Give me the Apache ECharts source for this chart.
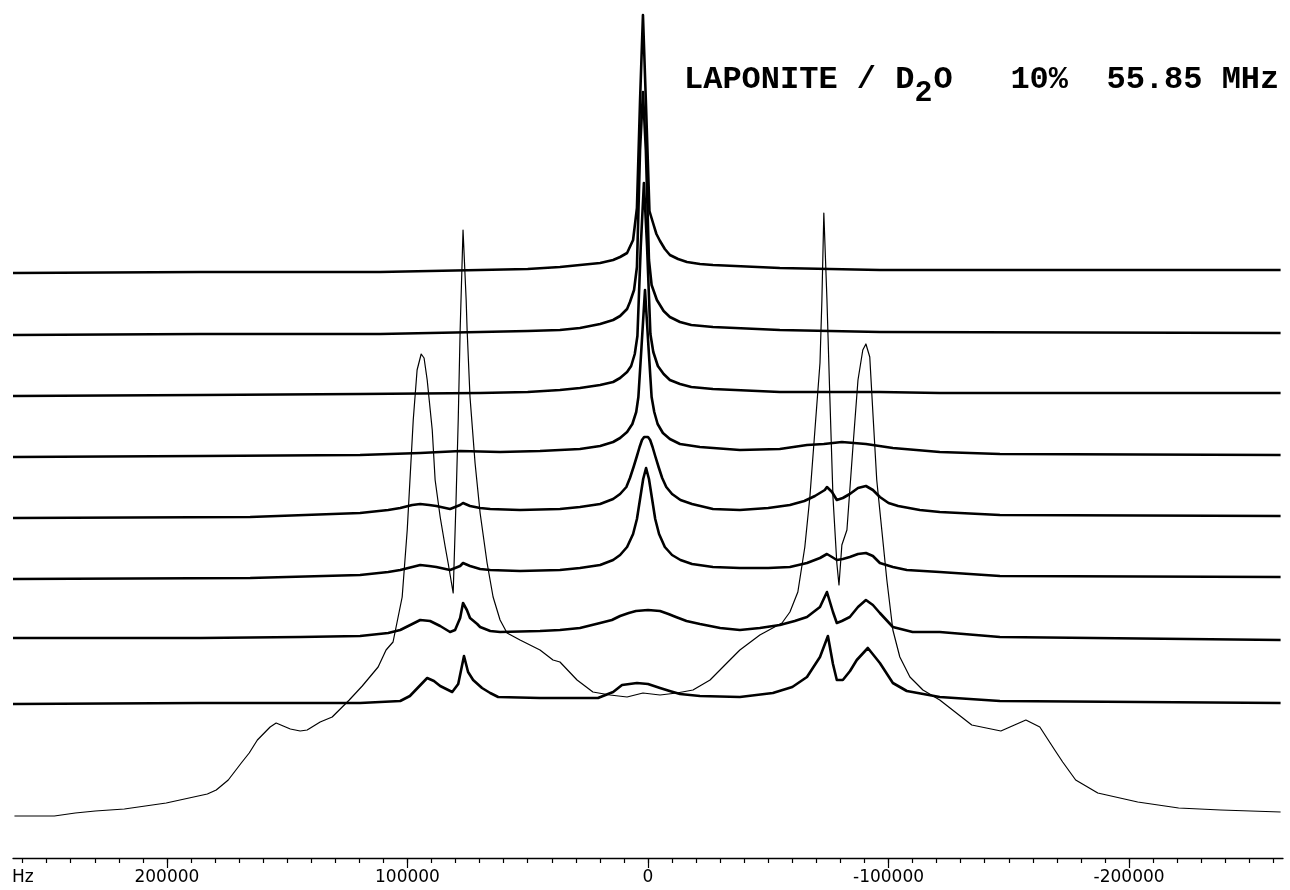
<!DOCTYPE html>
<html>
<head>
<meta charset="utf-8">
<script src="https://cdn.jsdelivr.net/npm/echarts@6.0.0/dist/echarts.min.js"></script>
<style>
  html, body { margin: 0; padding: 0; background: #fff; }
  #chart { width: 1290px; height: 890px; }
</style>
</head>
<body>
<div id="chart"></div>
<script>
// ---------------- DATA ----------------
// x: frequency offset in Hz, y: intensity above each trace's own baseline (arbitrary units)
const majorTickValues = [200000, 100000, 0, -100000, -200000];
const axisUnit = 'Hz';
const titleParts = ['LAPONITE / D', '2', 'O   10%  55.85 MHz'];

// vertical stacking offsets of the 8 noisy traces (top to bottom) and the broad spectrum
const traceOffsets = [585, 523, 462, 401, 340, 279, 218, 154, 42];

const trace1 = [[264000,0],[186000,1],[111400,1],[69800,3],[50000,4],[36600,6],[28300,8],[19900,10],[14500,13],[11600,16],[8700,20],[6200,33],[4600,65],[3300,173],[2100,258],[900,173],[-600,62],[-2100,50],[-3500,39],[-5000,32],[-7000,24],[-9100,18],[-12500,14],[-16200,11],[-21600,9],[-27000,8],[-54800,5],[-96400,3],[-146300,3],[-263000,3]];

const trace2 = [[264000,0],[186000,1],[111400,1],[69800,3],[50000,4],[36600,5],[28300,7],[19900,11],[14500,15],[11600,19],[8700,26],[7500,33],[5800,45],[4600,68],[3300,185],[2100,243],[900,185],[-400,75],[-1500,50],[-3700,35],[-6500,24],[-9100,18],[-13300,13],[-18000,10],[-27000,8],[-54800,5],[-96400,3],[-263000,2]];

const trace3 = [[264000,0],[186000,1],[119700,2],[69800,3],[50000,4],[36600,6],[28300,8],[19900,11],[14500,14],[11600,18],[8700,24],[7000,30],[5500,42],[4400,60],[3000,150],[1700,213],[400,150],[-1000,62],[-2200,44],[-4100,30],[-6500,22],[-9100,16],[-13300,12],[-18000,9],[-27000,7],[-54800,4],[-96400,4],[-121300,3],[-263000,3]];

const trace4 = [[264000,0],[186000,1],[119700,2],[94700,4],[78000,6],[61500,5],[44900,6],[36600,7],[28300,8],[19900,11],[14500,15],[11600,19],[8700,25],[6500,33],[4900,45],[4000,60],[2700,110],[1250,167],[-200,110],[-1500,60],[-2600,45],[-4000,33],[-6200,24],[-9100,18],[-13300,13],[-21600,10],[-38200,7],[-54800,8],[-66100,12],[-73100,13],[-80600,15],[-90600,13],[-101800,9],[-121300,5],[-146300,3],[-263000,2]];

const trace5 = [[264000,0],[165400,1],[119700,5],[108000,8],[103000,10],[98000,13],[94700,14],[91000,13],[88000,12],[82300,9],[78100,13],[76900,15],[74000,12],[69800,10],[65600,9],[53200,8],[36600,9],[28300,11],[19900,14],[14500,19],[11600,24],[9000,31],[7500,40],[6000,51],[4600,62],[3500,71],[2500,78],[1600,81],[800,82],[0,81],[-900,78],[-1900,71],[-3000,62],[-4400,51],[-5900,40],[-7600,31],[-10000,24],[-13500,18],[-18300,14],[-27000,9],[-38200,8],[-50000,10],[-59000,13],[-65000,17],[-69400,22],[-73500,28],[-74400,31],[-76500,26],[-78500,18],[-81000,20],[-83900,24],[-87300,30],[-90600,32],[-93500,28],[-96400,21],[-100000,15],[-104000,12],[-113000,8],[-121300,6],[-146300,3],[-263000,2]];

const trace6 = [[264000,0],[165400,1],[119700,4],[108000,7],[103000,9],[98000,12],[94700,14],[91000,13],[88000,12],[82300,9],[78100,13],[76900,16],[74000,13],[69800,10],[65600,9],[53200,8],[36600,9],[28300,11],[19900,14],[14500,19],[11600,24],[8700,32],[6200,45],[4600,60],[3300,80],[2000,100],[800,111],[-400,100],[-1700,80],[-3000,60],[-4600,45],[-7000,32],[-10000,24],[-13500,19],[-18300,15],[-27000,12],[-38200,11],[-50000,11],[-59000,12],[-66100,16],[-71500,21],[-74400,25],[-76500,22],[-78500,19],[-81000,20],[-83900,22],[-87300,25],[-90600,26],[-93500,23],[-96400,16],[-101800,12],[-107600,9],[-121300,7],[-146300,3],[-263000,2]];

const trace7 = [[264000,2],[186000,2],[144600,3],[119700,4],[108000,7],[103000,10],[98000,16],[94700,20],[90600,19],[86400,14],[82300,8],[80200,10],[78100,22],[76900,37],[75300,30],[74000,22],[71000,16],[69800,13],[65600,9],[61500,8],[44900,9],[36600,10],[28300,12],[19900,17],[15000,20],[11600,24],[8000,27],[5000,29],[0,30],[-5000,29],[-8500,26],[-11600,23],[-16000,19],[-21600,16],[-30000,12],[-38200,10],[-46500,12],[-54800,15],[-61000,19],[-66100,23],[-71500,33],[-74400,48],[-76900,28],[-78500,17],[-80600,19],[-83900,23],[-87300,33],[-90600,40],[-93500,35],[-96400,27],[-101800,13],[-110000,8],[-121300,8],[-146300,3],[-263000,0]];

const trace8 = [[264000,0],[186000,1],[144600,1],[119700,1],[103000,3],[99000,8],[95000,18],[91800,26],[89000,23],[86400,18],[81400,12],[78900,20],[76500,48],[74800,32],[72700,24],[69000,16],[65600,11],[62300,7],[44900,6],[20800,6],[14500,12],[10800,19],[4600,21],[0,20],[-5000,16],[-9000,13],[-13300,10],[-21600,8],[-38200,7],[-51900,11],[-60000,17],[-66100,27],[-71500,47],[-74800,68],[-76900,40],[-78500,24],[-81000,24],[-84000,33],[-86800,44],[-91400,56],[-96400,41],[-101800,21],[-107600,13],[-121300,7],[-146300,3],[-263000,1]];

// broad static spectrum (thin line at the bottom)
const broadSpectrum = [[263400,0],[246800,0],[238100,3],[229800,5],[217700,7],[209000,10],[200300,13],[183200,22],[179500,26],[174500,36],[169100,53],[165800,63],[162400,76],[157100,89],[154600,93],[148700,87],[144600,85],[141700,86],[136300,94],[131300,99],[124200,116],[118800,130],[112200,149],[108900,166],[106000,174],[102200,219],[100100,286],[97600,396],[96000,446],[94300,462],[93100,458],[91800,436],[89700,386],[88500,336],[86400,299],[84300,269],[83100,253],[81000,223],[79800,316],[78900,396],[78100,486],[76900,586],[75600,516],[75200,486],[74000,419],[71900,353],[69800,303],[66900,253],[64400,219],[61500,196],[58600,183],[53200,176],[44900,166],[39500,156],[36600,154],[29500,136],[22900,124],[15800,121],[8700,119],[2100,123],[-5000,121],[-12000,123],[-18700,126],[-25800,136],[-32800,153],[-38200,166],[-46500,181],[-55700,193],[-59000,204],[-62300,224],[-65200,269],[-67300,319],[-69400,386],[-71500,453],[-72300,516],[-73100,603],[-74400,516],[-75600,419],[-76900,319],[-78500,253],[-79400,231],[-80600,271],[-82700,286],[-85200,369],[-87300,436],[-89300,466],[-90600,472],[-92200,459],[-93500,403],[-95100,336],[-97200,286],[-99300,236],[-101800,186],[-104700,159],[-108900,139],[-114300,126],[-121300,116],[-134600,91],[-146700,85],[-157100,96],[-162900,89],[-169100,66],[-172400,54],[-177800,36],[-187000,23],[-203600,14],[-220600,8],[-238100,6],[-263000,4]];

const noisyTraces = [trace1, trace2, trace3, trace4, trace5, trace6, trace7, trace8];

// ---------------- CHART ----------------
const minorTickValues = [];
for (let v = -260000; v <= 260000; v += 10000) minorTickValues.push(v);

const chart = echarts.init(document.getElementById('chart'), null, { renderer: 'canvas' });

const series = noisyTraces.map((tr, i) => ({
  type: 'line',
  xAxisIndex: 0,
  yAxisIndex: 0,
  symbol: 'none',
  silent: true,
  animation: false,
  lineStyle: { color: '#000', width: 2.6, join: 'round' },
  data: tr.map(p => [p[0], p[1] + traceOffsets[i]])
}));
series.push({
  type: 'line',
  xAxisIndex: 0,
  yAxisIndex: 0,
  symbol: 'none',
  silent: true,
  animation: false,
  lineStyle: { color: '#000', width: 1.2, join: 'round' },
  data: broadSpectrum.map(p => [p[0], p[1] + traceOffsets[8]])
});

const option = {
  backgroundColor: '#fff',
  animation: false,
  grid: { left: 13, right: 7, top: 0, bottom: 32, containLabel: false },
  xAxis: [
    {
      type: 'value', inverse: true, min: -264000, max: 264000,
      position: 'bottom',
      splitLine: { show: false },
      axisLine: { show: true, onZero: false, lineStyle: { color: '#000', width: 1.3 } },
      axisTick: { show: true, length: 5, customValues: minorTickValues, lineStyle: { color: '#000', width: 1.2 } },
      axisLabel: {
        show: true, customValues: majorTickValues, margin: 11,
        color: '#000', fontFamily: 'DejaVu Sans', fontSize: 17,
        formatter: v => String(v)
      }
    },
    {
      type: 'value', inverse: true, min: -264000, max: 264000,
      position: 'bottom',
      splitLine: { show: false },
      axisLine: { show: false, onZero: false },
      axisTick: { show: true, length: 10, customValues: majorTickValues, lineStyle: { color: '#000', width: 1.2 } },
      axisLabel: { show: false }
    }
  ],
  yAxis: {
    type: 'value', min: 0, max: 858, show: false,
    splitLine: { show: false }
  },
  series: series,
  graphic: [
    { type: 'text', x: 12, y: 878, style: { text: axisUnit, font: '17px "DejaVu Sans"', fill: '#000', verticalAlign: 'middle', align: 'left' } },
    { type: 'text', x: 684, y: 80, style: { text: titleParts[0], font: 'bold 32px "Liberation Mono"', fill: '#000', verticalAlign: 'middle', align: 'left' } },
    { type: 'text', x: 684 + 12 * 19.2, y: 93, style: { text: titleParts[1], font: 'bold 30px "Liberation Mono"', fill: '#000', verticalAlign: 'middle', align: 'left' } },
    { type: 'text', x: 684 + 13 * 19.2, y: 80, style: { text: titleParts[2], font: 'bold 32px "Liberation Mono"', fill: '#000', verticalAlign: 'middle', align: 'left' } }
  ]
};

chart.setOption(option);
</script>
</body>
</html>
